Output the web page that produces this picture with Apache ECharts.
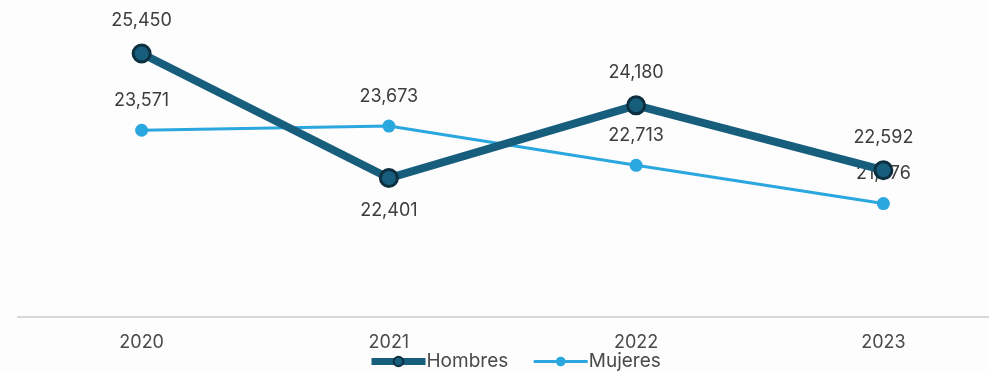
<!DOCTYPE html>
<html>
<head>
<meta charset="utf-8">
<script src="https://cdn.jsdelivr.net/npm/echarts@6/dist/echarts.min.js"></script>
<style>
  html, body { margin: 0; padding: 0; background: #fdfdfd; }
  #chart { width: 989px; height: 371px; }
</style>
</head>
<body>
<div id="chart"></div>
<script>
const years = ['2020', '2021', '2022', '2023']
const hombres = [25450, 22401, 24180, 22592]
const mujeres = [23571, 23673, 22713, 21776]
// label below the point only for Hombres 2021
const hombresLabelPos = ['top', 'bottom', 'top', 'top']

const fmt = v => v.toLocaleString('en-US')
const font = 'Inter, Roboto, sans-serif'

const chart = echarts.init(document.getElementById('chart'))

const labelStyle = {
  show: true,
  fontSize: 18,
  color: '#3d3d3d',
  fontFamily: font,
  distance: 14,
  formatter: p => fmt(p.value)
}

chart.setOption({
  backgroundColor: '#fdfdfd',
  animation: false,
  grid: { left: 18, right: -18, top: 31, bottom: 54, outerBoundsMode: 'none' },
  legend: {
    top: 352,
    left: 368,
    itemGap: 24,
    itemWidth: 54,
    itemHeight: 12,
    padding: 0,
    textStyle: { fontSize: 19, color: '#4a4a4a', fontFamily: font, padding: [0, 0, 0, -4] },
    data: [
      { name: 'Hombres', lineStyle: { width: 7 } },
      { name: 'Mujeres', lineStyle: { width: 3 } }
    ]
  },
  xAxis: {
    type: 'category',
    data: years,
    axisLine: { lineStyle: { color: '#d9d9d9', width: 2 } },
    axisTick: { show: false },
    axisLabel: { fontSize: 18, color: '#4a4a4a', margin: 17, fontFamily: font }
  },
  yAxis: {
    type: 'value',
    min: 19000,
    max: 26000,
    show: false,
    splitLine: { show: false }
  },
  series: [
    {
      name: 'Hombres',
      type: 'line',
      z: 3,
      data: hombres.map((v, i) => ({ value: v, label: { position: hombresLabelPos[i] } })),
      symbol: 'circle',
      symbolSize: 17,
      color: '#175e7c',
      lineStyle: { width: 8, color: '#175e7c' },
      itemStyle: { color: '#175e7c', borderColor: '#0d2f3f', borderWidth: 3 },
      label: labelStyle
    },
    {
      name: 'Mujeres',
      type: 'line',
      z: 2,
      data: mujeres,
      symbol: 'circle',
      symbolSize: 13,
      color: '#2ba7df',
      lineStyle: { width: 3, color: '#2ba7df' },
      itemStyle: { color: '#2ba7df' },
      label: Object.assign({}, labelStyle, { position: 'top' })
    }
  ]
})
</script>
</body>
</html>
